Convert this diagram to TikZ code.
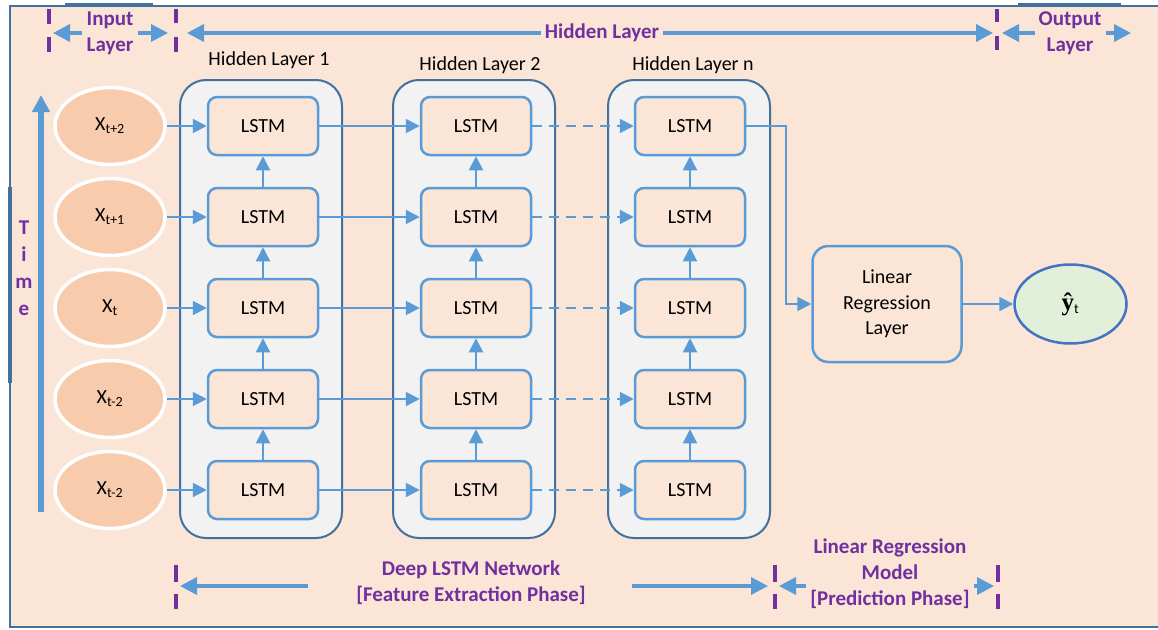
\documentclass[tikz,border=0pt]{standalone}
\usepackage{fontspec}
\setmainfont{Carlito}
\newfontfamily\yfont{Liberation Serif}
\usetikzlibrary{arrows.meta}
\usetikzlibrary{positioning,shapes}
\definecolor{peach}{HTML}{FBE5D6}
\definecolor{salmon}{HTML}{F8CBAD}
\definecolor{mint}{HTML}{E2F0D9}
\definecolor{skyline}{HTML}{5B9BD5}
\definecolor{frameblue}{HTML}{41719C}
\definecolor{royal}{HTML}{4472C4}
\definecolor{lblpurple}{HTML}{7030A0}
\def\xin#1{X\textsubscript{#1}}

\begin{document}
\begin{tikzpicture}[%
      x=1pt, y=-1pt,
      every node/.style={inner sep=0pt},
      node distance=30.5pt and 100.5pt,
      >={Triangle[length=14pt,width=14pt]},
      lstm/.style={rectangle, rounded corners=9pt, draw=skyline, line width=2.5pt,
        fill=peach, minimum width=110pt, minimum height=58pt,
        font=\fontsize{20}{24}\selectfont},
      input/.style={ellipse, draw=white, line width=3.5pt, fill=salmon,
        minimum width=110pt, minimum height=77pt, font=\fontsize{20}{24}\selectfont},
      output/.style={ellipse, draw=royal, line width=2.5pt, fill=mint,
        minimum width=110pt, minimum height=77pt, font=\fontsize{20}{24}\selectfont},
      layerbox/.style={rectangle, rounded corners=26pt, draw=frameblue, line width=2pt,
        fill=black!5, minimum width=162pt, minimum height=458pt},
      caption/.style={font=\fontsize{20}{24}\selectfont},
      tag/.style={text=lblpurple, align=center, inner sep=4pt,
        font=\bfseries\fontsize{21}{26}\selectfont},
      link/.style={->, draw=skyline, line width=2pt},
      span/.style={-{Triangle[length=17pt,width=17pt]}, draw=skyline, line width=3.5pt},
      tick/.style={draw=lblpurple, line width=3.5pt}
    ]
    % page and frame
    \fill[white] (0,0) rectangle (1158,629);
    \useasboundingbox (0,0) rectangle (1158,629);
    \fill[peach] (10,6) rectangle (1158,627);
    \draw[frameblue, line width=2pt] (1158,6) -- (10,6) -- (10,627) -- (1158,627);
    \draw[frameblue, line width=4pt] (65,5) -- (153,5) (1018,5) -- (1121,5) (10,187) -- (10,383);

    % hidden layer columns
    \node [layerbox] (h1) at (261,309) {};
    \node [layerbox, right=49pt of h1] (h2) {};
    \node [layerbox, right=51pt of h2] (hn) {};
    \node [caption] (c1) at (269,60) {Hidden Layer 1};
    \node [caption] (c2) at (480,65) {Hidden Layer 2};
    \node [caption] (cn) at (693,65) {Hidden Layer n};

    \node [lstm] (a1) at (263,126) {LSTM};
    \node [lstm, below=of a1] (a2) {LSTM};
    \node [lstm, below=of a2] (a3) {LSTM};
    \node [lstm, below=of a3] (a4) {LSTM};
    \node [lstm, below=of a4] (a5) {LSTM};
    \node [lstm, right=of a1] (b1) {LSTM};
    \node [lstm, right=of a2] (b2) {LSTM};
    \node [lstm, right=of a3] (b3) {LSTM};
    \node [lstm, right=of a4] (b4) {LSTM};
    \node [lstm, right=of a5] (b5) {LSTM};
    \node [lstm, right=101.5pt of b1] (n1) {LSTM};
    \node [lstm, right=101.5pt of b2] (n2) {LSTM};
    \node [lstm, right=101.5pt of b3] (n3) {LSTM};
    \node [lstm, right=101.5pt of b4] (n4) {LSTM};
    \node [lstm, right=101.5pt of b5] (n5) {LSTM};

    % inputs
    \node [input, left=40pt of a1] (x1) {\xin{t+2}};
    \node [input, left=40pt of a2] (x2) {\xin{t+1}};
    \node [input, left=40pt of a3] (x3) {\xin{t}};
    \node [input, left=40pt of a4] (x4) {\xin{t-2}};
    \node [input, left=40pt of a5] (x5) {\xin{t-2}};

    % regression and prediction
    \node [lstm, rounded corners=16pt, minimum width=149pt, minimum height=116pt,
      align=center, font=\fontsize{20}{25.5}\selectfont] (reg) at (887,304) {Linear\\Regression\\Layer};
    \node [output, minimum width=112pt, minimum height=79pt, right=50.5pt of reg] (yhat)
      {{\yfont\bfseries\fontsize{25}{28}\selectfont ŷ}\textsubscript{t}};

    \path [draw] (x1) edge[link] (a1)
    (x2) edge[link] (a2)
    (x3) edge[link] (a3)
    (x4) edge[link] (a4)
    (x5) edge[link] (a5)
    (a1) edge[link] (b1)
    (a2) edge[link] (b2)
    (a3) edge[link] (b3)
    (a4) edge[link] (b4)
    (a5) edge[link] (b5)
    (b1) edge[link, dash pattern=on 10pt off 7pt] (n1)
    (b2) edge[link, dash pattern=on 10pt off 7pt] (n2)
    (b3) edge[link, dash pattern=on 10pt off 7pt] (n3)
    (b4) edge[link, dash pattern=on 10pt off 7pt] (n4)
    (b5) edge[link, dash pattern=on 10pt off 7pt] (n5)
    (a5) edge[link] (a4)
    (a4) edge[link] (a3)
    (a3) edge[link] (a2)
    (a2) edge[link] (a1)
    (b5) edge[link] (b4)
    (b4) edge[link] (b3)
    (b3) edge[link] (b2)
    (b2) edge[link] (b1)
    (n5) edge[link] (n4)
    (n4) edge[link] (n3)
    (n3) edge[link] (n2)
    (n2) edge[link] (n1)
    (reg) edge[link] (yhat)
    ;
    \draw[link] (n1.east) -- ++(40,0) |- (reg.west);

    % time axis
    \coordinate (tbot) at (41,512);
    \coordinate (ttop) at (41,95);
    \draw[span, line width=5.5pt] (tbot) -- (ttop);
    \node [tag, font=\bfseries\fontsize{21}{27}\selectfont] (time) at (24,268) {T\\i\\m\\e};

    % layer spans on top
    \draw[tick] (49,9) -- (49,24) (49,37) -- (49,52);
    \draw[tick] (176,9) -- (176,23) (176,37) -- (176,52);
    \draw[tick] (997,9) -- (997,22) (997,36) -- (997,50);
    \coordinate (t1) at (49,33);
    \coordinate (t2) at (176,33);
    \coordinate (t3) at (997,33);
    \coordinate (t4) at (1131,33);
    \node [tag] (inlbl) at (110,33) {Input\\Layer};
    \node [tag] (hidlbl) at (602,33) {Hidden Layer};
    \node [tag] (outlbl) at (1070,33) {Output\\Layer};
    \draw[span, shorten >=4pt] (inlbl) -- (t1);
    \draw[span, shorten >=8pt] (inlbl) -- (t2);
    \draw[span, shorten >=11pt] (hidlbl) -- (t2);
    \draw[span, shorten >=4pt] (hidlbl) -- (t3);
    \draw[span, shorten >=5pt] (outlbl) -- (t3);
    \draw[span] (outlbl) -- (t4);

    % phase spans at the bottom
    \draw[tick] (176,565) -- (176,582) (176,594) -- (176,609);
    \draw[tick] (775,565) -- (775,582) (775,594) -- (775,609);
    \draw[tick] (998,565) -- (998,582) (998,594) -- (998,609);
    \coordinate (s1) at (176,586);
    \coordinate (s2) at (775,586);
    \coordinate (s3) at (998,586);
    \coordinate (d1) at (308,586);
    \coordinate (d2) at (632,586);
    \node [tag] (deeplbl) at (471,583) {Deep LSTM Network\\ {[Feature Extraction Phase]}};
    \node [tag] (modlbl) at (890,574) {Linear Regression\\Model\\ {[Prediction Phase]}};
    \draw[span, shorten >=4pt] (d1) -- (s1);
    \draw[span, shorten >=7pt] (d2) -- (s2);
    \draw[span, shorten >=4pt] (modlbl.west |- s2) -- (s2);
    \draw[span, shorten >=4pt] (modlbl.east |- s3) -- (s3);
  \end{tikzpicture}
\end{document}
